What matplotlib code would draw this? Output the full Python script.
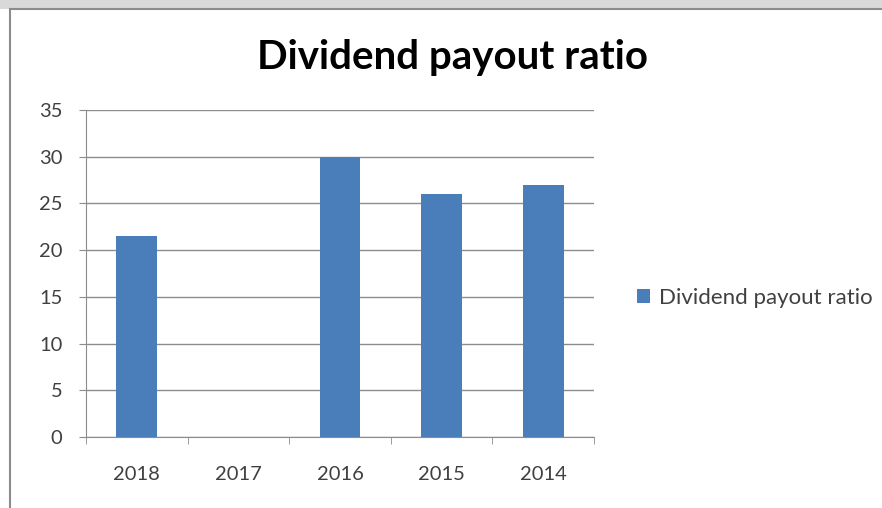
#!/usr/bin/env python3
"""Dividend payout ratio - bar chart."""
import matplotlib
matplotlib.use("Agg")
import matplotlib.pyplot as plt
from matplotlib.patches import Rectangle

years = ["2018", "2017", "2016", "2015", "2014"]
ratio = [21.5, 0, 30, 26, 27]
label = "Dividend payout ratio"

plt.rcParams["font.family"] = ["Lato", "DejaVu Sans"]

W, H = 882, 508
fig = plt.figure(figsize=(W / 100, H / 100), dpi=100)
fig.patch.set_facecolor("white")

# marco del grafico pegado (franja gris arriba y borde)
fig.patches.append(Rectangle((0, 1 - 9 / H), 1, 9 / H, transform=fig.transFigure,
                             facecolor="#d9d9d9", edgecolor="none", zorder=-2))
fig.patches.append(Rectangle((10 / W, -0.05), 1.1, 1 - 9 / H + 0.05,
                             transform=fig.transFigure, facecolor="white",
                             edgecolor="#8c8c8c", lw=1.5, zorder=-1))

ax = fig.add_axes([86 / W, 1 - 437 / H, (594 - 86) / W, (437 - 110) / H])
ax.set_zorder(2)
x = range(len(years))
ax.bar(x, ratio, width=0.4, color="#4a7ebb", label=label, zorder=3)
ax.set_xlim(-0.5, len(years) - 0.5)
ax.set_ylim(0, 35)
ax.set_yticks(range(0, 36, 5))
ax.set_xticks(list(x))
ax.set_xticklabels(years)
ax.set_xticks([i - 0.5 for i in range(len(years) + 1)], minor=True)
ax.grid(axis="y", color="#8c8c8c", lw=1)
ax.set_axisbelow(True)
for s in ("top", "right"):
    ax.spines[s].set_visible(False)
for s in ("left", "bottom"):
    ax.spines[s].set_color("#8c8c8c")
ax.tick_params(axis="x", which="major", length=0, pad=21, labelsize=14.5,
               labelcolor="#404040")
ax.tick_params(axis="x", which="minor", length=5, color="#8c8c8c",
               direction="out")
ax.tick_params(axis="y", length=5, color="#8c8c8c", pad=12, labelsize=14.5,
               labelcolor="#404040")

fig.text(452 / W, 1 - 58 / H, "Dividend payout ratio", ha="center",
         va="center", fontsize=29, fontweight="bold", color="black")

fig.legend(loc="center left", bbox_to_anchor=(617 / W, 1 - 298 / H),
           frameon=False, fontsize=16, handlelength=0.6, handleheight=0.6,
           handletextpad=0.4, labelcolor="#404040")

fig.savefig("out.png", dpi=100)
